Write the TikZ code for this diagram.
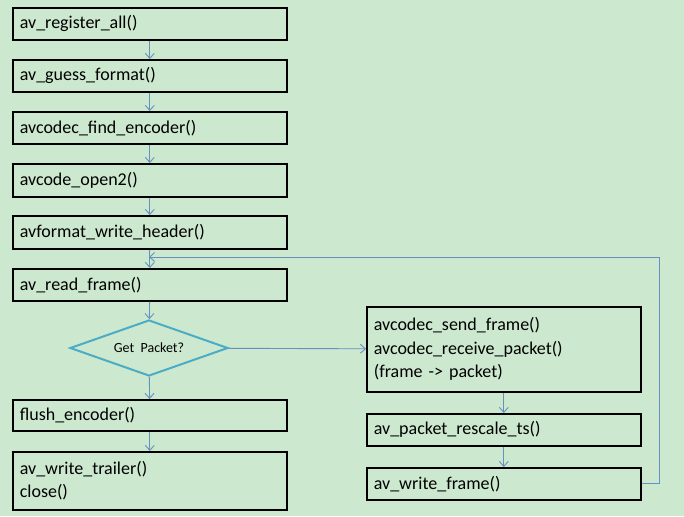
\documentclass[tikz,border=0pt]{standalone}
\usepackage{fontspec}
\setmainfont{Carlito}
\usetikzlibrary{
  positioning,
  arrows.meta,
  shapes.geometric
}
\definecolor{bggreen}{RGB}{204,232,207}
\definecolor{flowblue}{RGB}{100,145,192}
\definecolor{diablue}{RGB}{75,172,198}
\tikzstyle{func}=[rectangle, draw=black, line width=1.6pt, anchor=north west, text width=260pt, inner xsep=7pt, align=left, font=\fontsize{18}{23.5}\selectfont]
\tikzstyle{flow}=[->, >={Straight Barb[length=5pt,width=9pt]}, draw=flowblue, line width=0.9pt]
\tikzstyle{decision}=[diamond, draw=diablue, line width=2pt, aspect=2.8, minimum width=158pt, minimum height=56pt, inner sep=0pt, font=\fontsize{14}{16}\selectfont]

\begin{document}
\begin{tikzpicture}[x=1pt,y=-1pt]
    % background
    \fill[bggreen] (0,0) rectangle (684,516);
    \useasboundingbox (0,0) rectangle (684,516);

    % left column
    \node[func, minimum height=32pt] (reg) at (12,7) {av\_register\_all()};
    \node[func, minimum height=32pt] (guess) at (12,59) {av\_guess\_format()};
    \node[func, minimum height=32pt] (findenc) at (12,111) {avcodec\_find\_encoder()};
    \node[func, minimum height=33pt] (open) at (12,163) {avcode\_open2()};
    \node[func, minimum height=33pt] (header) at (12,215) {avformat\_write\_header()};
    \node[func, minimum height=32pt] (readf) at (12,268) {av\_read\_frame()};

    % decision
    \node[decision] (getpkt) at (149,348) {Get~~Packet?};

    \node[func, minimum height=31pt] (flush) at (12,399) {flush\_encoder()};
    \node[func, minimum height=58pt] (trailer) at (12,451) {av\_write\_trailer()\\close()};

    % right column
    \node[func, minimum height=85pt] (encode) at (366,306)
        {avcodec\_send\_frame()\\avcodec\_receive\_packet()\\(frame -> packet)};
    \node[func, minimum height=32pt] (rescale) at (366,413) {av\_packet\_rescale\_ts()};
    \node[func, minimum height=32pt] (wframe) at (366,467) {av\_write\_frame()};

    % loop entry point
    \coordinate (loopin) at (149,257);

    % connectors
    \draw[flow] (reg) -- (guess);
    \draw[flow] (guess) -- (findenc);
    \draw[flow] (findenc) -- (open);
    \draw[flow] (open) -- (header);
    \draw[flow] (header) -- (readf);
    \draw[flow] (readf) -- (getpkt);
    \draw[flow] (getpkt) -- (flush);
    \draw[flow] (flush) -- (trailer);
    \draw[flow] (getpkt) -- (encode);
    \draw[flow] (encode.south -| rescale) -- (rescale);
    \draw[flow] (rescale) -- (wframe);

    % back to av_read_frame
    \draw[flow] (wframe.east) -- ++(18,0) |- (loopin);
\end{tikzpicture}
\end{document}
